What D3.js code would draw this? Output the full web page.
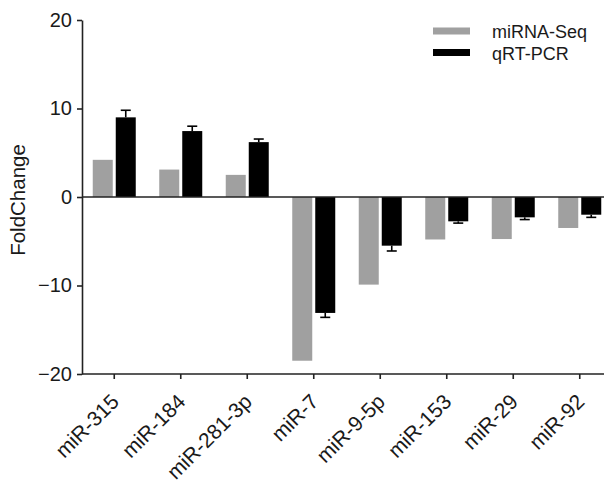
<!DOCTYPE html>
<html><head><meta charset="utf-8">
<script src="https://cdn.jsdelivr.net/npm/d3@7/dist/d3.min.js"></script>
<style>
html,body{margin:0;padding:0;background:#fff;}
text{font-family:Arial,"Liberation Sans",sans-serif;fill:#1a1a1a;}
</style></head>
<body><svg id="c" width="604" height="483"></svg>
<script>
const categories = ["miR-315","miR-184","miR-281-3p","miR-7","miR-9-5p","miR-153","miR-29","miR-92"];
const seqValues = [4.2, 3.1, 2.5, -18.5, -9.9, -4.8, -4.75, -3.5];
const pcrValues = [9.0, 7.45, 6.2, -13.1, -5.5, -2.75, -2.3, -2.0];
const pcrErrors = [0.8, 0.55, 0.35, 0.5, 0.6, 0.2, 0.25, 0.3];
const seriesNames = ["miRNA-Seq","qRT-PCR"];
const seriesColors = ["#a0a0a0","#000000"];
const yTicks = [-20,-10,0,10,20];

const svg = d3.select("#c");
const y = d3.scaleLinear().domain([-20,20]).range([374,20]);
const x = d3.scaleBand().domain(categories).range([81,613]).padding(0);
const axisX = 82;
const barW = 20;

// bars
const g = svg.append("g");
categories.forEach((c,i)=>{
  const cx = x(c) + x.bandwidth()/2;
  const v1 = seqValues[i], v2 = pcrValues[i];
  g.append("rect").attr("x", cx-21.5).attr("width", barW)
    .attr("y", y(Math.max(0,v1))).attr("height", Math.abs(y(v1)-y(0)))
    .attr("fill", seriesColors[0]);
  g.append("rect").attr("x", cx+1.5).attr("width", barW)
    .attr("y", y(Math.max(0,v2))).attr("height", Math.abs(y(v2)-y(0)))
    .attr("fill", seriesColors[1]);
  const e = v2 >= 0 ? v2 + pcrErrors[i] : v2 - pcrErrors[i];
  const bx = cx + 1.5 + barW/2;
  g.append("line").attr("x1",bx).attr("x2",bx).attr("y1",y(v2)).attr("y2",y(e))
    .attr("stroke","#000").attr("stroke-width",1.6);
  g.append("line").attr("x1",bx-5).attr("x2",bx+5).attr("y1",y(e)).attr("y2",y(e))
    .attr("stroke","#000").attr("stroke-width",1.6);
});

// zero line
svg.append("line").attr("x1",axisX).attr("x2",604).attr("y1",y(0)).attr("y2",y(0))
  .attr("stroke","#222").attr("stroke-width",1.6);

// y axis
const yAxis = d3.axisLeft(y).tickValues(yTicks).tickSize(5).tickPadding(5).tickSizeOuter(0);
const ya = svg.append("g").attr("transform",`translate(${axisX},0)`).call(yAxis);
ya.select(".domain").attr("stroke","#222").attr("stroke-width",1.6);
ya.selectAll(".tick line").attr("stroke","#222").attr("stroke-width",1.6);
ya.selectAll(".tick text").style("font-size","20px").attr("fill","#1a1a1a")
  .style("font-family",'Arial,"Liberation Sans",sans-serif');

// x axis at bottom
const xAxis = d3.axisBottom(x).tickSize(5).tickSizeOuter(0).tickFormat(d=>d);
const xa = svg.append("g").attr("transform",`translate(0,${y(-20)})`).call(xAxis);
xa.select(".domain").attr("d",`M${axisX},0H604`).attr("stroke","#222").attr("stroke-width",1.6);
xa.selectAll(".tick line").attr("stroke","#222").attr("stroke-width",1.6);
xa.selectAll(".tick text").style("font-size","21px").attr("fill","#1a1a1a")
  .style("font-family",'Arial,"Liberation Sans",sans-serif')
  .attr("text-anchor","end").attr("y",0).attr("dy",0)
  .attr("transform","translate(6,29) rotate(-45)");

// y label
svg.append("text").attr("transform","translate(25,200) rotate(-90)")
  .attr("text-anchor","middle").style("font-size","20.5px").text("FoldChange");

// legend
seriesNames.forEach((n,i)=>{
  const ly = 31 + i*21.5;
  svg.append("rect").attr("x",433).attr("y",ly-3.5).attr("width",37).attr("height",7)
    .attr("fill",seriesColors[i]);
  svg.append("text").attr("x",492).attr("y",ly+7).style("font-size","18px").text(n);
});
</script></body></html>
